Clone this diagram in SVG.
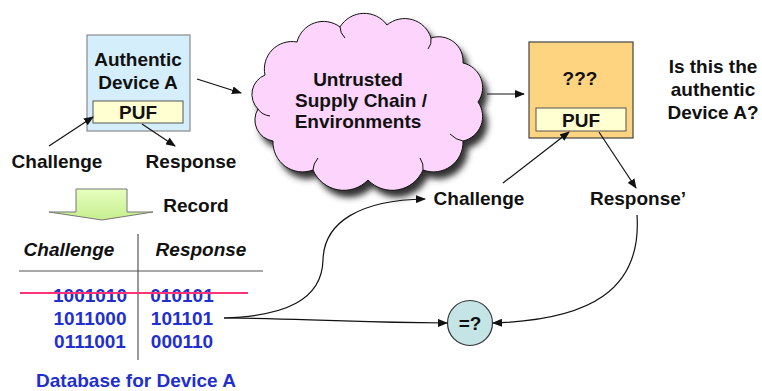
<svg xmlns="http://www.w3.org/2000/svg" width="762" height="391" viewBox="0 0 762 391">
<defs>
<style>
.t{font-family:"Liberation Sans",Arial,sans-serif;font-weight:bold;font-size:19px;fill:#111;text-anchor:middle}
.b{fill:#1F2FD0}
.i{font-style:italic}
.c{fill:none;stroke:#111;stroke-width:1.2}
.curl{fill:none;stroke:#111;stroke-width:1}
</style>
<marker id="ah" markerWidth="10" markerHeight="8" refX="9" refY="4" orient="auto" markerUnits="userSpaceOnUse">
<path d="M0,0 L10,4 L0,8 Z" fill="#111"/>
</marker>
<filter id="blur" x="-20%" y="-20%" width="140%" height="140%">
<feGaussianBlur stdDeviation="3.2"/>
</filter>
<linearGradient id="gr" x1="0" y1="0" x2="0" y2="1">
<stop offset="0" stop-color="#E6FFBE"/>
<stop offset="1" stop-color="#C6EE8E"/>
</linearGradient>
<path id="cloudp" d="M265,75 A27.6,27.6 0 0 1 297,42 A27.3,27.3 0 0 1 340,27 A28.2,28.2 0 0 1 387,25 A27.5,27.5 0 0 1 431,38 A24.4,24.4 0 0 1 463,63 A25.1,25.1 0 0 1 478,102 A25.1,25.1 0 0 1 463,141 A29.6,29.6 0 0 1 423,170 A33.5,33.5 0 0 1 368,180 A33.5,33.5 0 0 1 313,170 A29.6,29.6 0 0 1 273,141 A21.2,21.2 0 0 1 258,109 A20.8,20.8 0 0 1 265,75 Z"/>
</defs>
<rect width="762" height="391" fill="#fff"/>

<g id="deviceA">
<rect x="87" y="35" width="103" height="96" fill="#D4EEFC" stroke="#8A8A8A" stroke-width="1.2"/>
<text class="t" x="138" y="66">Authentic</text>
<text class="t" x="138" y="89">Device A</text>
<rect x="93" y="101" width="90" height="22" fill="#FFFFD2" stroke="#555" stroke-width="1"/>
<text class="t" x="138" y="119">PUF</text>
</g>

<g id="labelsA">
<text class="t" x="57" y="168">Challenge</text>
<text class="t" x="191" y="168">Response</text>
</g>

<g id="cloud">
<use href="#cloudp" fill="#333" transform="translate(5,7)" filter="url(#blur)"/>
<use href="#cloudp" fill="#FCD4FC" stroke="#111" stroke-width="1"/>
<path class="curl" d="M258,109 Q262,115 270,116"/>
<path class="curl" d="M340,27 Q340,33 345,38"/>
<path class="curl" d="M431,38 Q432,44 428,49"/>
<path class="curl" d="M463,141 Q456,140 450,134"/>
<path class="curl" d="M313,170 Q313,164 318,158"/>
<path class="curl" d="M423,170 Q424,164 420,158"/>
<text class="t" x="358" y="86">Untrusted</text>
<text class="t" x="361" y="107">Supply Chain /</text>
<text class="t" x="358" y="128">Environments</text>
</g>

<g id="deviceQ">
<rect x="529" y="42" width="104" height="96" fill="#FFD480" stroke="#444" stroke-width="1.2"/>
<text class="t" x="580" y="85">???</text>
<rect x="536" y="108" width="90" height="23" fill="#FFFFD2" stroke="#555" stroke-width="1"/>
<text class="t" x="581" y="127">PUF</text>
</g>

<g id="question">
<text class="t" x="713" y="73">Is this the</text>
<text class="t" x="713" y="96">authentic</text>
<text class="t" x="713" y="119">Device A?</text>
</g>

<g id="labelsQ">
<text class="t" x="479" y="205">Challenge</text>
<text class="t" x="638" y="205">Response’</text>
</g>

<g id="record">
<path d="M76,189 H127 V212 H153 L102,220 L49,212 H76 Z" fill="url(#gr)" stroke="#777" stroke-width="1"/>
<text class="t" x="196" y="212">Record</text>
</g>

<g id="database">
<text class="t i" x="69" y="256">Challenge</text>
<text class="t i" x="201" y="256">Response</text>
<line x1="19" y1="271" x2="263" y2="271" stroke="#555" stroke-width="1.2"/>
<line x1="138" y1="234" x2="138" y2="360" stroke="#555" stroke-width="1.2"/>
<text class="t b" x="90" y="302">1001010</text>
<text class="t b" x="182" y="302">010101</text>
<line x1="20" y1="293" x2="248" y2="293" stroke="#FF3377" stroke-width="2.2"/>
<text class="t b" x="90" y="325">1011000</text>
<text class="t b" x="182" y="325">101101</text>
<text class="t b" x="90" y="348">0111001</text>
<text class="t b" x="182" y="348">000110</text>
<text class="t b" x="136" y="387">Database for Device A</text>
</g>

<g id="compare">
<circle cx="470" cy="323" r="22.5" fill="#C4E4E6" stroke="#333" stroke-width="1.2"/>
<text class="t" x="470" y="330">=?</text>
</g>

<g id="connectors">
<line class="c" x1="49" y1="146" x2="93" y2="117" marker-end="url(#ah)"/>
<line class="c" x1="142" y1="124" x2="175" y2="146" marker-end="url(#ah)"/>
<line class="c" x1="197" y1="79" x2="241" y2="93" marker-end="url(#ah)"/>
<line class="c" x1="487" y1="94" x2="524" y2="94" marker-end="url(#ah)"/>
<line class="c" x1="503" y1="183" x2="569" y2="132" marker-end="url(#ah)"/>
<line class="c" x1="599" y1="132" x2="636" y2="188" marker-end="url(#ah)"/>
<path class="c" d="M224,318 C285,316 322,300 323,260 C324,222 360,200 425,199" marker-end="url(#ah)"/>
<path class="c" d="M224,318 C300,318 320,322 447,323" marker-end="url(#ah)"/>
<path class="c" d="M637,215 C642,290 590,320 493,323" marker-end="url(#ah)"/>
</g>
</svg>
